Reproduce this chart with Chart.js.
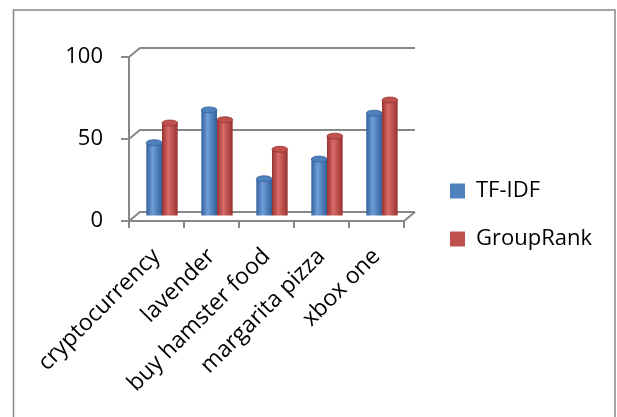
<!DOCTYPE html>
<html>
<head>
<meta charset="utf-8">
<script src="https://cdn.jsdelivr.net/npm/chart.js@4.4.1/dist/chart.umd.min.js"></script>
<style>
  html, body { margin: 0; padding: 0; background: #fff; }
</style>
</head>
<body>
<canvas id="grafica" width="617" height="417"></canvas>
<script>
const categorias = ['cryptocurrency', 'lavender', 'buy hamster food', 'margarita pizza', 'xbox one'];
const tfidf = [45, 65, 23, 35, 63];
const groupRank = [57, 59, 41, 49, 71];
const ticksY = [0, 50, 100];

const gris = '#878787';
const fuente = { family: "'Open Sans', sans-serif", size: 22 };
const prof = { dx: 11, dy: -9 }; // fondo de la caja 3D
const anchoCat = 0.57;

const tonos = [
    { base: '#4F81BD', claro: '#6E9ED9', oscuro: '#34609A' },
    { base: '#C0504D', claro: '#DA6B68', oscuro: '#96322F' }
];

// degradado horizontal para que la barra parezca un cilindro
const cilindro = (c) => {
    const chart = c.chart;
    const t = tonos[c.datasetIndex];
    const xs = chart.scales.x;
    if (!xs || !chart.chartArea) return t.base;
    const w = (xs.right - xs.left) / categorias.length * anchoCat / 2;
    const cx = xs.getPixelForValue(c.dataIndex) + (c.datasetIndex === 0 ? -w / 2 : w / 2);
    const g = chart.ctx.createLinearGradient(cx - w / 2, 0, cx + w / 2, 0);
    g.addColorStop(0, t.oscuro);
    g.addColorStop(0.4, t.claro);
    g.addColorStop(1, t.oscuro);
    return g;
};

const caja3d = {
    id: 'caja3d',
    afterLayout(chart) {
        // la leyenda de Excel queda un poco mas a la derecha y mas arriba
        chart.legend.left += 20;
        chart.legend.right += 20;
        chart.legend.top -= 12;
        chart.legend.bottom -= 12;
    },
    beforeDraw(chart) {
        const ctx = chart.ctx;
        ctx.save();
        ctx.strokeStyle = gris;
        ctx.lineWidth = 1.5;
        ctx.strokeRect(13.5, 10, 601.5, 430);
        ctx.restore();
    },
    beforeDatasetsDraw(chart) {
        const { ctx, chartArea: a, scales: { y } } = chart;
        ctx.save();
        ctx.strokeStyle = gris;
        ctx.lineWidth = 2;
        ctx.beginPath();
        ticksY.forEach(v => {
            const py = y.getPixelForValue(v);
            ctx.moveTo(a.left, py);
            ctx.lineTo(a.left + prof.dx, py + prof.dy);
            ctx.lineTo(a.right + prof.dx, py + prof.dy);
        });
        const p0 = y.getPixelForValue(0);
        ctx.moveTo(a.right, p0);
        ctx.lineTo(a.right + prof.dx, p0 + prof.dy);
        ctx.stroke();
        ctx.restore();
        // las barras van a media profundidad
        ctx.save();
        ctx.translate(prof.dx / 2, prof.dy / 2);
    },
    afterDatasetsDraw(chart) {
        const ctx = chart.ctx;
        chart.data.datasets.forEach((d, i) => {
            const t = tonos[i];
            chart.getDatasetMeta(i).data.forEach(el => {
                ctx.beginPath();
                ctx.ellipse(el.x, el.y, el.width / 2, 3, 0, 0, Math.PI * 2);
                ctx.fillStyle = t.base;
                ctx.fill();
                ctx.strokeStyle = t.oscuro;
                ctx.lineWidth = 0.8;
                ctx.stroke();
            });
        });
        ctx.restore();
    }
};

const grafica = new Chart(document.getElementById('grafica'), {
    type: 'bar',
    data: {
        labels: categorias,
        datasets: [
            { label: 'TF-IDF', data: tfidf, backgroundColor: cilindro, borderWidth: 0, clip: false },
            { label: 'GroupRank', data: groupRank, backgroundColor: cilindro, borderWidth: 0, clip: false }
        ]
    },
    options: {
        responsive: false,
        animation: false,
        categoryPercentage: anchoCat,
        barPercentage: 1,
        layout: { padding: { top: 57, right: 35, bottom: 20, left: 0 } },
        plugins: {
            legend: {
                position: 'right',
                align: 'center',
                maxWidth: 240,
                labels: {
                    font: fuente,
                    color: '#000',
                    boxWidth: 15,
                    boxHeight: 15,
                    padding: 26,
                    generateLabels: (chart) => chart.data.datasets.map((d, i) => ({
                        text: d.label,
                        fillStyle: tonos[i].base,
                        strokeStyle: tonos[i].base,
                        lineWidth: 0,
                        hidden: false,
                        datasetIndex: i
                    }))
                }
            },
            tooltip: { enabled: false }
        },
        scales: {
            x: {
                grid: { drawOnChartArea: false, color: gris, lineWidth: 2, tickLength: 7, offset: true },
                border: { color: gris, width: 2 },
                ticks: { font: { family: fuente.family, size: 23 }, color: '#000', minRotation: 45, maxRotation: 45, autoSkip: false, padding: 15 },
                afterFit: (s) => { s.height = 417 - 20 - 221; }
            },
            y: {
                min: 0,
                max: 100,
                ticks: { stepSize: 50, font: fuente, color: '#000', padding: 18 },
                grid: { drawOnChartArea: false, color: gris, lineWidth: 2, tickLength: 8 },
                border: { color: gris, width: 2 },
                afterFit: (s) => { s.width = 129; }
            }
        }
    },
    plugins: [caja3d]
});
</script>
</body>
</html>
